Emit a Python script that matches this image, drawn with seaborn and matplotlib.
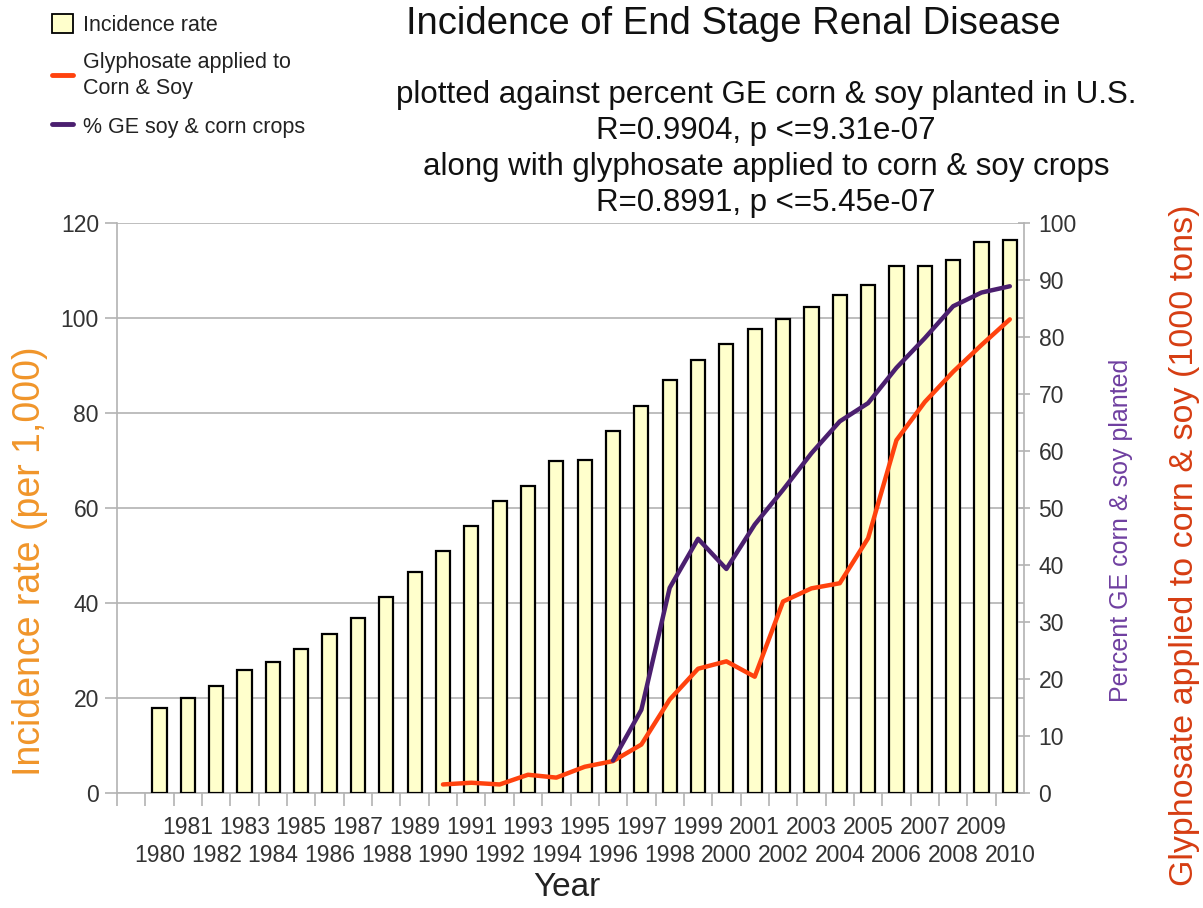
import numpy as np
import pandas as pd
import matplotlib
matplotlib.use("Agg")
import matplotlib.pyplot as plt
import seaborn as sns
from matplotlib.patches import Patch
from matplotlib.lines import Line2D
from matplotlib.ticker import FixedLocator, NullFormatter

# ---- data ----
years = list(range(1980, 2011))
incidence = [18.0, 20.1, 22.6, 25.8, 27.6, 30.4, 33.4, 36.9, 41.2, 46.5,
             51.0, 56.3, 61.4, 64.6, 69.8, 70.2, 76.3, 81.5, 87.0, 91.2,
             94.5, 97.7, 99.8, 102.3, 104.8, 106.9, 110.9, 110.9, 112.3, 116.1, 116.5]
gly_years = list(range(1990, 2011))
glyphosate = [1.5, 1.8, 1.5, 3.2, 2.7, 4.6, 5.6, 8.5, 16.4, 21.8, 23.1, 20.4,
              33.6, 35.9, 36.8, 44.7, 61.9, 68.6, 73.9, 78.6, 83.1]
ge_years = list(range(1996, 2011))
ge_pct = [5.7, 14.6, 36.0, 44.6, 39.3, 47.1, 53.2, 59.6, 65.2, 68.4, 74.6,
          79.8, 85.4, 87.8, 88.9]

title = "Incidence of End Stage Renal Disease"
subtitle_lines = ["plotted against percent GE corn & soy planted in U.S.",
                  "R=0.9904, p <=9.31e-07",
                  "along with glyphosate applied to corn & soy crops",
                  "R=0.8991, p <=5.45e-07"]

# ---- style ----
sns.set_theme(style="white")
plt.rcParams['font.family'] = ['Liberation Sans', 'DejaVu Sans']

BAR_FILL = "#ffffcc"
ORANGE = "#ff420e"
PURPLE = "#4b1f6f"
GRID = "#b3b3b3"
TXT = "#333333"
TICK_FS = 16.5

fig = plt.figure(figsize=(12.03, 9.08), dpi=100)
ax = fig.add_axes([117/1203, 1-793/908, (1024-117)/1203, (793-223)/908])

df = pd.DataFrame({"year": years, "incidence": incidence})
sns.barplot(data=df, x="year", y="incidence", native_scale=True, width=0.5,
            color=BAR_FILL, edgecolor="black", linewidth=1.6, saturation=1,
            ax=ax, zorder=3)
ax.set_xlim(years[0] - 1.5, years[-1] + 0.5)
ax.set_ylim(0, 120)
ax.set_yticks(range(0, 121, 20))
ax.yaxis.grid(True, color=GRID, linewidth=1.2, zorder=0)
ax.set_axisbelow(True)
for s in ["left", "bottom", "right", "top"]:
    ax.spines[s].set_color(GRID)
    ax.spines[s].set_linewidth(1.2)
ax.spines["top"].set_visible(False)

odd_years = [y for y in years if y % 2 == 1]
even_years = [y for y in years if y % 2 == 0]

# top row of x labels (odd years), marks at slot boundaries
ax.set_xticks(odd_years, [str(y) for y in odd_years])
ax.xaxis.set_minor_locator(FixedLocator([y - 0.5 for y in range(years[0] - 1, years[-1] + 1)]))
ax.xaxis.set_minor_formatter(NullFormatter())
ax.tick_params(axis="x", which="major", length=0, pad=16.5, labelsize=TICK_FS,
               labelcolor=TXT)
ax.tick_params(axis="x", which="minor", length=9, width=1.2, color=GRID,
               direction="out", bottom=True)
ax.tick_params(axis="y", which="major", length=9, width=1.2, color=GRID,
               direction="out", left=True, labelsize=TICK_FS, labelcolor=TXT, pad=4)
ax.set_xlabel("")
ax.set_ylabel("")

# bottom row of x labels (even years)
sec = ax.secondary_xaxis("bottom")
sec.set_xticks(even_years, [str(y) for y in even_years])
sec.tick_params(axis="x", length=0, pad=36.5, labelsize=TICK_FS, labelcolor=TXT)
sec.spines["bottom"].set_visible(False)

fig.text(567/1203, 1-888/908, "Year", ha="center", va="center", fontsize=24,
         color="#222222")

# secondary axis for lines
ax2 = ax.twinx()
sns.lineplot(x=gly_years, y=glyphosate, ax=ax2, color=ORANGE, linewidth=3.2,
             zorder=5)
sns.lineplot(x=ge_years, y=ge_pct, ax=ax2, color=PURPLE, linewidth=3.2,
             zorder=6)
ax2.set_ylim(0, 100)
ax2.set_yticks(range(0, 101, 10))
ax2.grid(False)
for s in ["left", "bottom", "right", "top"]:
    ax2.spines[s].set_visible(False)
ax2.tick_params(axis="y", right=True, length=9, width=1.2, color=GRID,
                direction="inout", labelsize=TICK_FS, labelcolor=TXT, pad=6)
ax2.set_ylabel("")
ax2.set_xlim(ax.get_xlim())

# axis titles
fig.text(30/1203, 1-561/908, "Incidence rate (per 1,000)", rotation=90,
         ha="center", va="center", fontsize=27, color="#f0952a")
fig.text(1121/1203, 1-530/908, "Percent GE corn & soy planted", rotation=90,
         ha="center", va="center", fontsize=18, color="#6f3fa0")
fig.text(1184/1203, 1-545/908, "Glyphosate applied to corn & soy (1000 tons)",
         rotation=90, ha="center", va="center", fontsize=24.5, color="#d63d12")

# titles
fig.text(733/1203, 1-24/908, title, ha="center", va="center", fontsize=27.5,
         color="#111111")
for i, line in enumerate(subtitle_lines):
    fig.text(766/1203, 1-(95 + 36*i)/908, line, ha="center", va="center",
             fontsize=22.5, color="#111111")

# legend
handles = [Patch(facecolor=BAR_FILL, edgecolor="black", linewidth=1.3),
           Line2D([], [], color=ORANGE, linewidth=3.5),
           Line2D([], [], color=PURPLE, linewidth=3.5)]
labels = ["Incidence rate", "Glyphosate applied to\nCorn & Soy",
          "% GE soy & corn crops"]
leg = fig.legend(handles, labels, loc="upper left",
                 bbox_to_anchor=(43/1203, 1-5/908),
                 frameon=False, fontsize=15.5, handlelength=1.0, handleheight=1.0,
                 handletextpad=0.45, labelspacing=0.75, borderaxespad=0,
                 labelcolor="#222222")
for t in leg.get_texts():
    t.set_linespacing(1.35)

fig.savefig("out.png", dpi=100)
